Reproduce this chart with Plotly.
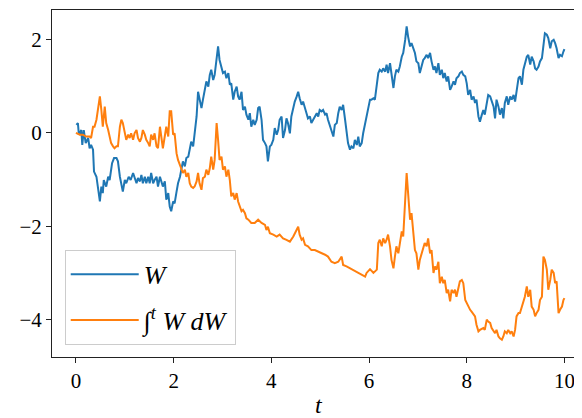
import plotly.graph_objects as go

# Brownian path W(t)
t_w = [0.01, 0.04, 0.06, 0.11, 0.13, 0.16, 0.20, 0.25, 0.28, 0.31, 0.35, 0.37, 0.42, 0.45, 0.49, 0.52, 0.55, 0.57, 0.62, 0.66,
       0.69, 0.74, 0.78, 0.83, 0.86, 0.90, 0.93, 0.96, 1.00, 1.03, 1.08, 1.12, 1.17, 1.20, 1.24, 1.27, 1.31, 1.34, 1.37, 1.41,
       1.44, 1.48, 1.51, 1.54, 1.58, 1.61, 1.65, 1.68, 1.72, 1.78, 1.82, 1.85, 1.89, 1.92, 1.95, 1.99, 2.02, 2.06, 2.09, 2.13,
       2.16, 2.19, 2.23, 2.26, 2.30, 2.33, 2.36, 2.40, 2.43, 2.47, 2.50, 2.53, 2.57, 2.60, 2.64, 2.67, 2.71, 2.74, 2.77, 2.81,
       2.84, 2.88, 2.91, 2.94, 2.98, 3.01, 3.05, 3.08, 3.12, 3.15, 3.18, 3.22, 3.25, 3.29, 3.32, 3.35, 3.39, 3.42, 3.46, 3.49,
       3.53, 3.56, 3.59, 3.63, 3.66, 3.70, 3.73, 3.76, 3.80, 3.83, 3.87, 3.90, 3.93, 3.97, 4.00, 4.04, 4.07, 4.11, 4.14, 4.17,
       4.21, 4.24, 4.28, 4.31, 4.34, 4.38, 4.41, 4.45, 4.48, 4.52, 4.55, 4.58, 4.62, 4.65, 4.69, 4.72, 4.75, 4.79, 4.82, 4.86,
       4.89, 4.93, 4.96, 4.99, 5.03, 5.06, 5.10, 5.13, 5.16, 5.20, 5.23, 5.27, 5.30, 5.34, 5.37, 5.40, 5.44, 5.47, 5.51, 5.54,
       5.57, 5.61, 5.64, 5.68, 5.71, 5.75, 5.78, 5.81, 5.85, 5.88, 5.92, 5.95, 5.98, 6.02, 6.05, 6.09, 6.12, 6.16, 6.19, 6.22,
       6.26, 6.29, 6.33, 6.36, 6.39, 6.43, 6.46, 6.50, 6.53, 6.56, 6.60, 6.63, 6.67, 6.70, 6.74, 6.77, 6.80, 6.84, 6.87, 6.91,
       6.94, 6.97, 7.01, 7.04, 7.08, 7.11, 7.14, 7.18, 7.21, 7.25, 7.28, 7.32, 7.35, 7.38, 7.42, 7.45, 7.49, 7.52, 7.55, 7.59,
       7.62, 7.66, 7.69, 7.73, 7.76, 7.79, 7.83, 7.86, 7.90, 7.93, 7.97, 8.00, 8.03, 8.07, 8.10, 8.14, 8.17, 8.20, 8.24, 8.27,
       8.31, 8.34, 8.37, 8.41, 8.44, 8.48, 8.51, 8.55, 8.58, 8.61, 8.65, 8.68, 8.72, 8.75, 8.78, 8.82, 8.85, 8.89, 8.92, 8.96,
       8.99, 9.02, 9.06, 9.09, 9.13, 9.16, 9.19, 9.23, 9.26, 9.30, 9.33, 9.37, 9.40, 9.43, 9.47, 9.50, 9.54, 9.57, 9.60, 9.64,
       9.67, 9.71, 9.74, 9.78, 9.81, 9.84, 9.88, 9.91, 9.95, 9.98, 10.00]
w_vals = [0.17, 0.21, -0.04, 0.06, -0.26, 0.06, -0.22, -0.11, -0.33, -0.26, -0.36, -0.83, -0.94, -1.22, -1.47, -1.15, -1.29, -1.01, -1.15, -0.94,
          -1.01, -0.65, -0.54, -0.54, -0.61, -0.94, -1.15, -1.26, -1.01, -1.08, -0.94, -1.01, -0.86, -0.97, -1.08, -0.97, -1.04, -0.90, -1.08, -0.94,
          -1.08, -0.94, -1.08, -0.86, -1.08, -1.01, -0.94, -1.15, -0.94, -1.15, -1.04, -1.43, -1.29, -1.58, -1.68, -1.47, -1.51, -1.26, -1.08, -0.94,
          -0.72, -0.61, -0.72, -0.54, -0.51, -0.33, -0.19, -0.29, -0.01, 0.35, 0.88, 0.71, 0.53, 0.71, 0.99, 1.10, 0.99, 1.24, 1.35, 1.13,
          1.24, 1.56, 1.85, 1.56, 1.42, 1.28, 1.31, 1.17, 1.28, 1.03, 1.06, 0.71, 0.88, 0.99, 0.78, 0.71, 0.88, 0.49, 0.56, 0.39,
          0.28, 0.42, 0.13, 0.28, 0.17, 0.28, 0.53, 0.56, 0.28, -0.15, -0.22, -0.29, -0.61, -0.29, -0.26, -0.15, 0.10, -0.04, 0.06, 0.28,
          0.35, -0.11, 0.06, 0.31, 0.21, -0.01, 0.35, 0.56, 0.67, 0.78, 0.88, 0.74, 0.60, 0.67, 0.49, 0.42, 0.31, 0.35, 0.21, 0.28,
          0.35, 0.42, 0.35, 0.49, 0.46, 0.49, 0.39, 0.42, 0.28, 0.13, 0.06, -0.08, 0.17, 0.21, 0.42, 0.56, 0.49, 0.60, 0.28, -0.01,
          -0.22, -0.36, -0.29, -0.33, -0.15, -0.26, -0.08, -0.29, -0.22, -0.01, 0.21, 0.35, 0.56, 0.71, 0.71, 0.74, 0.71, 0.99, 1.28, 1.35,
          1.31, 1.38, 1.31, 1.46, 1.28, 1.49, 1.21, 0.96, 1.21, 1.35, 1.31, 1.42, 1.63, 1.71, 1.99, 2.28, 2.06, 1.85, 1.92, 1.78,
          1.71, 1.53, 1.49, 1.28, 1.46, 1.56, 1.60, 1.67, 1.60, 1.71, 1.53, 1.35, 1.42, 1.28, 1.49, 1.24, 1.35, 1.17, 1.28, 1.10,
          1.21, 0.92, 0.99, 1.10, 1.03, 1.17, 1.21, 1.28, 1.31, 1.24, 1.21, 1.06, 0.81, 0.92, 0.71, 0.78, 0.64, 0.71, 0.35, 0.24,
          0.39, 0.49, 0.39, 0.64, 0.81, 0.78, 0.67, 0.56, 0.31, 0.71, 0.56, 0.39, 0.53, 0.31, 0.64, 0.78, 0.60, 0.78, 0.71, 0.81,
          0.67, 0.88, 1.17, 1.21, 1.03, 1.35, 1.49, 1.63, 1.67, 1.46, 1.63, 1.53, 1.38, 1.35, 1.42, 1.53, 1.60, 1.85, 2.13, 2.10,
          2.03, 1.81, 1.96, 1.99, 1.92, 1.81, 1.60, 1.67, 1.64, 1.74, 1.79]

# Ito integral  int^t W dW
t_i = [0.00, 0.08, 0.14, 0.21, 0.28, 0.31, 0.35, 0.38, 0.42, 0.45, 0.49, 0.52, 0.55, 0.59, 0.62, 0.66, 0.69, 0.72, 0.76, 0.79,
       0.83, 0.86, 0.90, 0.93, 0.96, 1.00, 1.03, 1.07, 1.10, 1.13, 1.17, 1.20, 1.24, 1.27, 1.31, 1.34, 1.37, 1.41, 1.44, 1.48,
       1.51, 1.54, 1.58, 1.61, 1.65, 1.68, 1.72, 1.78, 1.82, 1.85, 1.89, 1.92, 1.95, 1.99, 2.02, 2.06, 2.09, 2.13, 2.16, 2.19,
       2.23, 2.26, 2.30, 2.33, 2.36, 2.40, 2.43, 2.47, 2.50, 2.53, 2.57, 2.60, 2.64, 2.67, 2.71, 2.74, 2.77, 2.81, 2.84, 2.88,
       2.91, 2.94, 2.98, 3.01, 3.05, 3.08, 3.12, 3.15, 3.18, 3.22, 3.25, 3.29, 3.32, 3.35, 3.39, 3.42, 3.46, 3.49, 3.53, 3.59,
       3.66, 3.73, 3.80, 3.87, 3.90, 3.93, 3.97, 4.04, 4.11, 4.17, 4.24, 4.31, 4.38, 4.45, 4.48, 4.55, 4.58, 4.62, 4.65, 4.69,
       4.75, 4.82, 4.89, 4.96, 5.03, 5.10, 5.16, 5.23, 5.30, 5.37, 5.44, 5.47, 5.54, 5.61, 5.68, 5.75, 5.81, 5.88, 5.92, 5.95,
       6.02, 6.09, 6.16, 6.19, 6.22, 6.26, 6.29, 6.33, 6.36, 6.39, 6.43, 6.46, 6.50, 6.53, 6.56, 6.60, 6.63, 6.67, 6.70, 6.74,
       6.77, 6.80, 6.84, 6.87, 6.91, 6.94, 6.97, 7.01, 7.04, 7.08, 7.11, 7.14, 7.18, 7.21, 7.25, 7.28, 7.32, 7.35, 7.38, 7.42,
       7.45, 7.49, 7.52, 7.55, 7.59, 7.62, 7.66, 7.69, 7.73, 7.76, 7.79, 7.83, 7.86, 7.90, 7.93, 7.97, 8.00, 8.03, 8.07, 8.10,
       8.14, 8.17, 8.20, 8.24, 8.27, 8.34, 8.37, 8.41, 8.44, 8.48, 8.51, 8.55, 8.58, 8.61, 8.65, 8.68, 8.72, 8.75, 8.78, 8.82,
       8.85, 8.89, 8.92, 8.96, 8.99, 9.02, 9.06, 9.09, 9.13, 9.16, 9.19, 9.23, 9.26, 9.30, 9.33, 9.37, 9.40, 9.43, 9.47, 9.50,
       9.54, 9.57, 9.60, 9.64, 9.67, 9.71, 9.74, 9.78, 9.81, 9.84, 9.88, 9.91, 9.95, 9.98, 10.00]
i_vals = [0.00, -0.04, -0.04, -0.08, -0.08, -0.11, 0.13, 0.13, 0.28, 0.49, 0.78, 0.49, 0.13, 0.56, 0.21, 0.06, -0.08, -0.22, -0.29, -0.33,
          -0.29, -0.29, 0.13, 0.28, 0.21, -0.01, -0.15, -0.04, -0.11, -0.01, -0.15, -0.01, 0.06, -0.11, -0.19, -0.11, 0.06, -0.04, -0.15, -0.22,
          -0.29, -0.04, -0.15, -0.01, -0.29, -0.33, 0.13, -0.33, -0.04, 0.13, -0.08, 0.46, 0.46, -0.04, -0.01, -0.44, -0.58, -0.69, -0.79, -0.86,
          -0.79, -0.94, -0.86, -1.08, -1.15, -1.18, -1.15, -1.04, -0.86, -1.08, -1.22, -0.97, -0.94, -0.79, -0.90, -0.76, -0.51, -0.79, -0.58, 0.21,
          -0.15, -0.58, -0.51, -0.79, -0.72, -0.94, -0.79, -1.01, -1.36, -1.29, -1.43, -1.29, -1.47, -1.58, -1.68, -1.65, -1.72, -1.83, -1.86, -1.93,
          -1.93, -1.86, -1.93, -1.97, -2.08, -2.01, -2.15, -2.18, -2.22, -2.18, -2.26, -2.29, -2.33, -2.22, -2.15, -2.01, -2.18, -2.29, -2.26, -2.40,
          -2.43, -2.51, -2.51, -2.54, -2.58, -2.61, -2.65, -2.76, -2.79, -2.76, -2.65, -2.83, -2.86, -2.90, -2.93, -2.97, -3.00, -3.04, -3.08, -3.00,
          -2.92, -3.00, -2.93, -2.36, -2.29, -2.43, -2.26, -2.36, -2.29, -2.18, -2.43, -2.72, -2.90, -2.65, -2.43, -2.58, -2.36, -2.11, -2.22, -1.51,
          -0.86, -1.29, -1.86, -1.72, -2.15, -2.51, -2.58, -2.93, -2.72, -2.58, -2.51, -2.36, -2.43, -2.26, -2.58, -2.51, -3.00, -2.86, -2.93, -2.76,
          -3.22, -3.08, -3.22, -3.15, -3.43, -3.36, -3.61, -3.36, -3.43, -3.36, -3.51, -3.29, -3.18, -3.15, -3.22, -3.58, -3.65, -3.72, -3.79, -3.83,
          -3.90, -3.93, -4.11, -4.25, -4.22, -4.18, -4.22, -4.00, -4.04, -4.07, -4.18, -4.25, -4.29, -4.22, -4.36, -4.40, -4.43, -4.36, -4.25, -4.29,
          -4.22, -4.29, -4.25, -4.36, -4.22, -3.93, -3.86, -3.86, -3.72, -3.58, -3.51, -3.29, -3.51, -3.36, -3.72, -3.79, -3.93, -3.86, -3.79, -3.58,
          -3.51, -2.65, -2.72, -2.93, -3.36, -3.15, -2.93, -3.00, -3.22, -3.18, -3.86, -3.79, -3.72, -3.58, -3.54]

x_ticks = [0, 2, 4, 6, 8, 10]
y_ticks = [-4, -2, 0, 2]
y_tick_labels = ["\u22124", "\u22122", "0", "2"]
x_label = "<i>t</i>"

FONT = "Liberation Serif, Times New Roman, serif"

fig = go.Figure()
fig.add_trace(go.Scatter(x=t_w, y=w_vals, mode="lines", name="<i>W</i>",
                         legendgroup="a", line=dict(color="#1f77b4", width=2)))
fig.add_trace(go.Scatter(x=t_i, y=i_vals, mode="lines",
                         name="\u222b<sup><i>t</i></sup> <i>W dW</i>",
                         legendgroup="b", line=dict(color="#ff7f0e", width=2)))

# page body has an 8px margin, so the figure is 8px smaller than the window
fig.update_layout(
    width=574, height=410,
    margin=dict(l=44, r=0, t=2, b=61),
    paper_bgcolor="white", plot_bgcolor="white",
    font=dict(family=FONT, size=21, color="black"),
    showlegend=True,
    legend=dict(x=0.024, y=0.035, xanchor="left", yanchor="bottom",
                bgcolor="rgba(255,255,255,0.8)", bordercolor="#cccccc", borderwidth=1,
                font=dict(family=FONT, size=26), itemwidth=68, tracegroupgap=9,
                traceorder="grouped"),
    xaxis=dict(range=[-0.49, 10.36], tickvals=x_ticks, showgrid=False, zeroline=False,
               showline=True, linecolor="#222", linewidth=1, mirror=True,
               ticks="outside", ticklen=5, tickcolor="#222", automargin=False),
    yaxis=dict(range=[-4.80, 2.63], tickvals=y_ticks, ticktext=y_tick_labels,
               showgrid=False, zeroline=False,
               showline=True, linecolor="#222", linewidth=1,
               ticks="outside", ticklen=5, tickcolor="#222", automargin=False),
    annotations=[dict(text=x_label, xref="paper", yref="paper", x=0.504, y=-0.138,
                      xanchor="center", yanchor="middle", showarrow=False,
                      font=dict(family=FONT, size=24))],
)

fig.write_html("out.html")
